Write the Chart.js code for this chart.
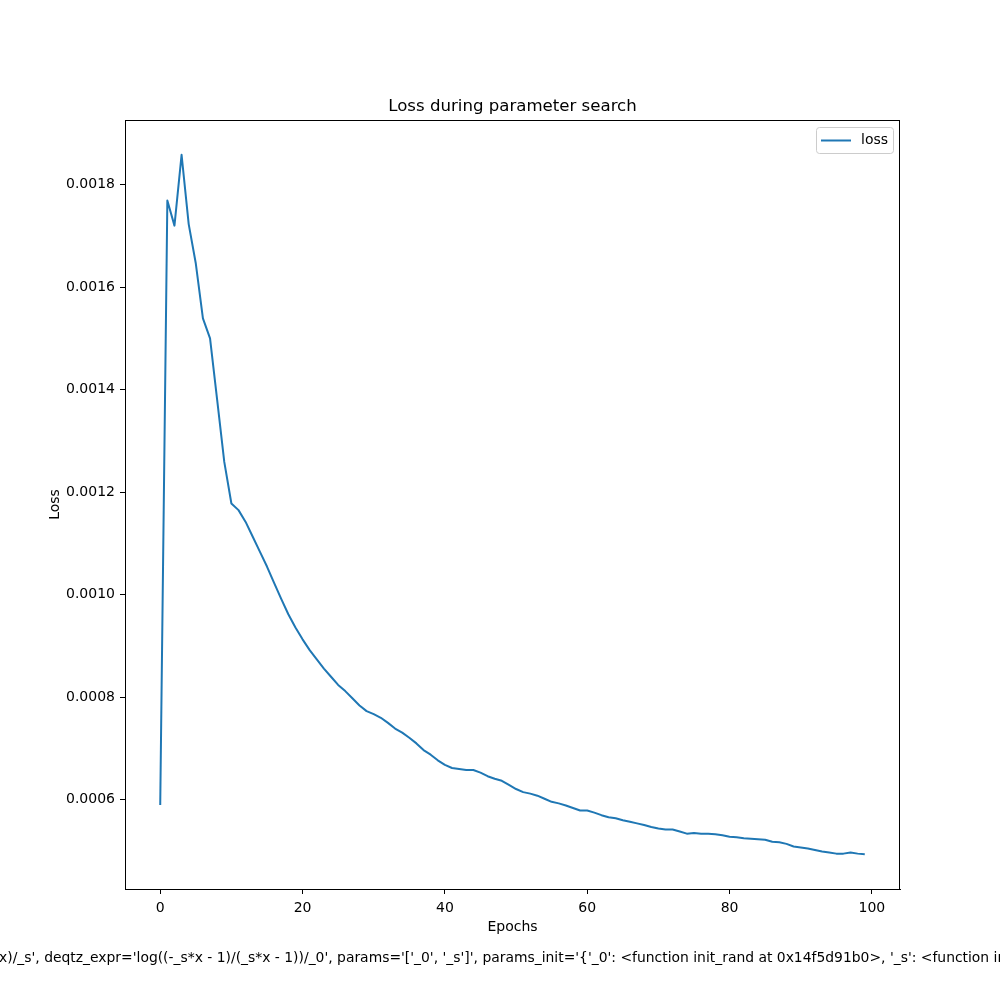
<!DOCTYPE html>
<html>
<head>
<meta charset="utf-8">
<script src="https://cdn.jsdelivr.net/npm/chart.js@4"></script>
<style>
  body { margin: 0; background: #fff; }
  canvas { display: block; }
</style>
</head>
<body>
<canvas id="lossCanvas" width="1000" height="1000"></canvas>
<script>
// Values, one per epoch (0..99)
const loss = [
    0.000590, 0.001769, 0.001720, 0.001858, 0.001723, 0.001646, 0.001539, 0.001500, 0.001380, 0.001259,
    0.001178, 0.001165, 0.001142, 0.001113, 0.001084, 0.001055, 0.001023, 0.000992, 0.000962, 0.000936,
    0.000913, 0.000892, 0.000874, 0.000856, 0.000840, 0.000824, 0.000812, 0.000798, 0.000784, 0.000773,
    0.000767, 0.000760, 0.000750, 0.000739, 0.000731, 0.000721, 0.000710, 0.000697, 0.000688, 0.000677,
    0.000668, 0.000662, 0.000660, 0.000658, 0.000658, 0.000653, 0.000646, 0.000641, 0.000637, 0.000629,
    0.000621, 0.000615, 0.000612, 0.000608, 0.000602, 0.000596, 0.000593, 0.000589, 0.000584, 0.000579,
    0.000579, 0.000575, 0.000570, 0.000566, 0.000564, 0.000560, 0.000557, 0.000554, 0.000551, 0.000547,
    0.000544, 0.000542, 0.000542, 0.000538, 0.000534, 0.000535, 0.000534, 0.000534, 0.000533, 0.000531,
    0.000528, 0.000527, 0.000525, 0.000524, 0.000523, 0.000522, 0.000518, 0.000517, 0.000514, 0.000509,
    0.000507, 0.000505, 0.000502, 0.000499, 0.000497, 0.000495, 0.000495, 0.000497, 0.000495, 0.000494
];

// Tick positions
const xTicks = [0, 20, 40, 60, 80, 100];
const yTicks = [0.0006, 0.0008, 0.0010, 0.0012, 0.0014, 0.0016, 0.0018];

const seriesLabel = 'loss';
const chartTitle = 'Loss during parameter search';
const footerText = "x)/_s', deqtz_expr='log((-_s*x - 1)/(_s*x - 1))/_0', params='['_0', '_s']', params_init='{'_0': <function init_rand at 0x14f5d91b0>, '_s': <function in";

const FONT = "'DejaVu Sans', sans-serif";
const BLUE = '#1f77b4';

// Frame, title, legend box and the long caption under the axes
const extras = {
    id: 'extras',
    afterDraw(chart) {
        const ctx = chart.ctx;
        const a = chart.chartArea;
        ctx.save();

        // full box around axes
        ctx.strokeStyle = '#000';
        ctx.lineWidth = 1;
        ctx.strokeRect(Math.round(a.left) + 0.5, Math.round(a.top) + 0.5,
            Math.round(a.right - a.left) - 1, Math.round(a.bottom - a.top));

        // title
        ctx.fillStyle = '#000';
        ctx.font = '16.6px ' + FONT;
        ctx.textAlign = 'center';
        ctx.textBaseline = 'middle';
        ctx.fillText(chartTitle, (a.left + a.right) / 2, 107);

        // legend
        const lx = a.right - 84, ly = a.top + 7, lw = 77, lh = 26;
        ctx.fillStyle = 'rgba(255,255,255,0.8)';
        ctx.strokeStyle = '#cccccc';
        ctx.beginPath();
        ctx.roundRect(lx + 0.5, ly + 0.5, lw, lh, 3);
        ctx.fill();
        ctx.stroke();
        ctx.strokeStyle = BLUE;
        ctx.lineWidth = 2;
        ctx.beginPath();
        ctx.moveTo(lx + 5, ly + 13.5);
        ctx.lineTo(lx + 35, ly + 13.5);
        ctx.stroke();
        ctx.fillStyle = '#000';
        ctx.font = '14px ' + FONT;
        ctx.textAlign = 'left';
        ctx.fillText(chart.data.datasets[0].label, lx + 45, ly + 13);

        // caption (clipped by the canvas edges, as in the original)
        ctx.font = '13.9px ' + FONT;
        ctx.textAlign = 'left';
        ctx.fillText(footerText, -1, 958);
        ctx.restore();
    }
};

const ctx = document.getElementById('lossCanvas').getContext('2d');
new Chart(ctx, {
    type: 'line',
    data: {
        datasets: [{
            label: seriesLabel,
            data: loss.map((v, i) => ({ x: i, y: v })),
            borderColor: BLUE,
            borderWidth: 2,
            borderJoinStyle: 'round',
            pointRadius: 0,
            tension: 0,
            fill: false
        }]
    },
    options: {
        responsive: false,
        animation: false,
        devicePixelRatio: 1,
        layout: { padding: { left: 0, right: 100, top: 120, bottom: 63 } },
        plugins: {
            legend: { display: false },
            title: { display: false },
            tooltip: { enabled: false }
        },
        scales: {
            x: {
                type: 'linear',
                min: -4.95,
                max: 103.95,
                grid: { display: true, drawOnChartArea: false, drawTicks: true, tickLength: 5, color: '#000' },
                border: { display: true, color: '#000', width: 1 },
                ticks: {
                    color: '#000',
                    font: { size: 14, family: FONT },
                    padding: 6,
                    maxRotation: 0,
                    autoSkip: false,
                    callback: v => String(v)
                },
                title: {
                    display: true,
                    text: 'Epochs',
                    color: '#000',
                    font: { size: 14, family: FONT },
                    padding: { top: 0, bottom: 1 }
                },
                afterBuildTicks: s => { s.ticks = xTicks.map(v => ({ value: v })); },
                afterFit: s => { s.height = 48; }
            },
            y: {
                type: 'linear',
                min: 0.000426,
                max: 0.001926,
                grid: { display: true, drawOnChartArea: false, drawTicks: true, tickLength: 5, color: '#000' },
                border: { display: true, color: '#000', width: 1 },
                ticks: {
                    color: '#000',
                    font: { size: 14, family: FONT },
                    padding: 5,
                    autoSkip: false,
                    callback: v => v.toFixed(4)
                },
                title: {
                    display: true,
                    text: 'Loss',
                    color: '#000',
                    font: { size: 14, family: FONT },
                    padding: { top: 47, bottom: 0 }
                },
                afterBuildTicks: s => { s.ticks = yTicks.map(v => ({ value: v })); },
                afterFit: s => { s.width = 125; }
            }
        }
    },
    plugins: [extras]
});
</script>
</body>
</html>
